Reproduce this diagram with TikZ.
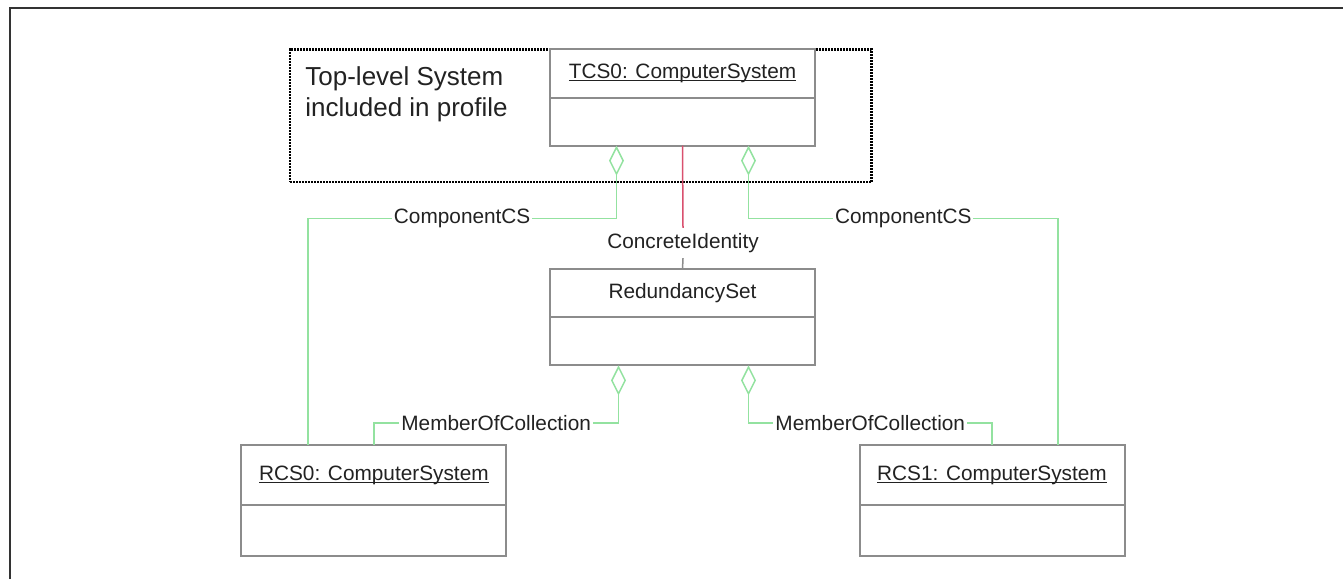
\documentclass[tikz,border=0pt]{standalone}
\usepackage{fontspec}
\setmainfont{Liberation Sans}
\usepackage{xcolor}
\definecolor{cBox}{HTML}{8C8C8C}
\definecolor{cAggr}{HTML}{93E2A0}
\definecolor{cIdent}{HTML}{D9506E}
\definecolor{cFrame}{HTML}{333333}
\definecolor{cText}{HTML}{222222}
\usepackage{tikz}
\usetikzlibrary{positioning,arrows.meta,fit}
\newcommand\clsname[1]{\setbox0\hbox{#1}\rlap{\rule[-1.2pt]{\wd0}{0.5pt}}\box0}
\tikzset{
  class-head/.style={draw=cBox,line width=1pt,fill=white,outer sep=0pt,
    minimum width=132.5pt,minimum height=24.2pt,inner sep=0pt,
    font=\fontsize{10.4}{12.5}\selectfont,text=cText},
  class-body/.style={class-head,minimum height=24pt},
  assoc-label/.style={fill=white,inner sep=1pt,
    font=\fontsize{10.4}{12.5}\selectfont,text=cText},
  arrow-aggr/.style={{Diamond[open,length=15pt,width=7.5pt]}-,line width=0.75pt,draw=cAggr},
  line-ident/.style={line width=0.75pt,draw=cIdent},
  line-plain/.style={line width=0.75pt,draw=cBox},
  profile-box/.style={draw=black,line width=1.3pt,dash pattern=on 0.9pt off 0.6pt,inner sep=0pt},
  profile-label/.style={align=left,inner sep=0pt,
    font=\fontsize{13}{15.5}\selectfont,text=cText},
  frame-line/.style={draw=cFrame,line width=1pt},
}

\begin{document}
\begin{tikzpicture}[x=0.5pt,y=-0.5pt]
  \useasboundingbox (0,0) rectangle (1343,579);
  \draw[frame-line] (10,579) -- (10,8) -- (1343,8);
  \node[profile-box,fit={(290,49.3) (871.7,182)}] (profile) {};
  \node[profile-label,anchor=north west] (plabel) at (305,66) {Top-level System\\included in profile};
  % classes
  \node[class-head] (tcs) at (682.5,73.5) {\clsname{TCS0: ComputerSystem}};
  \node[class-body,below=0pt of tcs] (tcsb) {};
  \node[class-head,below=61.65pt of tcsb] (rs) {RedundancySet};
  \node[class-body,below=0pt of rs] (rsb) {};
  \node[class-head,minimum height=30pt] (rcs0) at (373.85,475) {\clsname{RCS0: ComputerSystem}};
  \node[class-body,minimum height=25.5pt,below=0pt of rcs0] (rcs0b) {};
  \node[class-head,minimum height=30pt] (rcs1) at (992,475) {\clsname{RCS1: ComputerSystem}};
  \node[class-body,minimum height=25.5pt,below=0pt of rcs1] (rcs1b) {};
  % associations
  \node[assoc-label,inner ysep=2.5pt] (ci) at (683,243) {ConcreteIdentity};
  \draw[line-ident] (tcsb.south) -- (ci.north);
  \draw[line-plain] (ci.south) -- (rs.north);
  \draw[arrow-aggr] ([xshift=-33pt]tcsb.south) -- ++(0,72.6)
    -| node[assoc-label,pos=0.25] (cs0lbl) {ComponentCS} ([xshift=-33pt]rcs0.north);
  \draw[arrow-aggr] ([xshift=33pt]tcsb.south) -- ++(0,72.6)
    -| node[assoc-label,pos=0.25] (cs1lbl) {ComponentCS} ([xshift=33pt]rcs1.north);
  \draw[arrow-aggr] ([xshift=-32pt]rsb.south) -- ++(0,57.7)
    -| node[assoc-label,pos=0.25] (moc0lbl) {MemberOfCollection} (rcs0.north);
  \draw[arrow-aggr] ([xshift=33pt]rsb.south) -- ++(0,57.7)
    -| node[assoc-label,pos=0.25] (moc1lbl) {MemberOfCollection} (rcs1.north);
\end{tikzpicture}
\end{document}
